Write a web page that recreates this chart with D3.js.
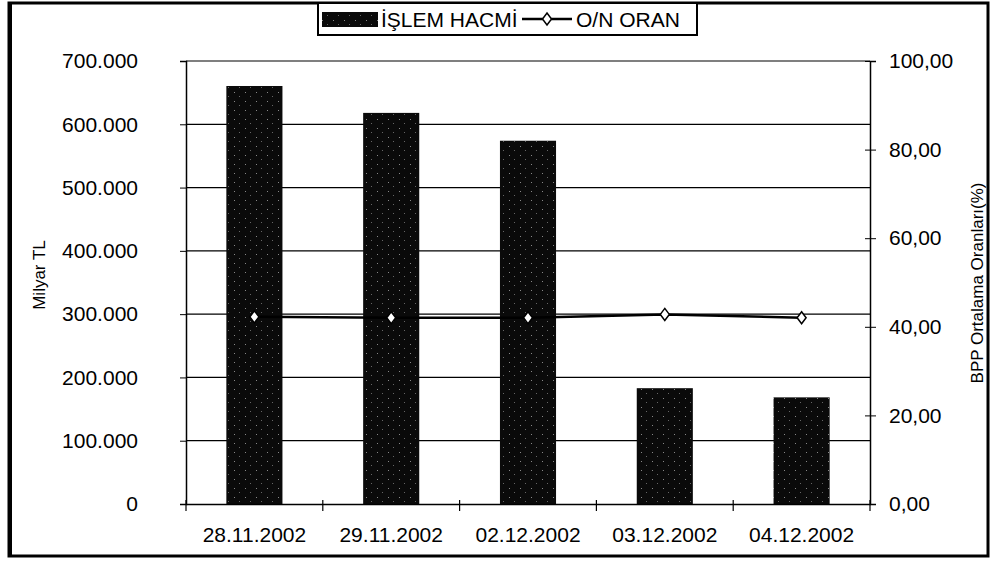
<!DOCTYPE html>
<html>
<head>
<meta charset="utf-8">
<script src="https://cdn.jsdelivr.net/npm/d3@7"></script>
<style>
body{margin:0;background:#fff;}
text{font-family:"Liberation Sans",Arial,sans-serif;fill:#000;}
</style>
</head>
<body>
<div id="chart"></div>
<script>
var dates=["28.11.2002","29.11.2002","02.12.2002","03.12.2002","04.12.2002"];
var islemHacmi=[660500,618000,574000,183000,168500];
var onOran=[42.25,42.05,42.05,42.8,42.05];
var leftTicks=[0,100000,200000,300000,400000,500000,600000,700000];
var rightTicks=[0,20,40,60,80,100];

var width=992,height=562;
var tr=d3.formatLocale({decimal:",",thousands:".",grouping:[3],currency:["","TL"]});
var fmtL=function(d){return d==0?"0":tr.format(",")(d);};
var fmtR=tr.format(",.2f");

var svg=d3.select("#chart").append("svg")
    .attr("width",width).attr("height",height);

// bar texture: black with a few light specks
var pat=svg.append("defs").append("pattern")
    .attr("id","dots").attr("width",11).attr("height",9)
    .attr("patternUnits","userSpaceOnUse");
pat.append("rect").attr("width",11).attr("height",9).attr("fill","#0a0a0a");
pat.append("rect").attr("x",3).attr("y",2).attr("width",1).attr("height",1).attr("fill","#888");
pat.append("rect").attr("x",8).attr("y",6).attr("width",1).attr("height",1).attr("fill","#666");

// outer frame
svg.append("rect").attr("x",9).attr("y",3).attr("width",979).attr("height",553)
    .attr("fill","none").attr("stroke","#000").attr("stroke-width",3);
svg.append("line").attr("x1",10).attr("x2",10).attr("y1",3).attr("y2",556)
    .attr("stroke","#000").attr("stroke-width",4);

var pLeft=186,pRight=870,pTop=61,pBottom=504;

var x=d3.scaleBand().domain(dates).range([pLeft,pRight]).padding(0);
var yL=d3.scaleLinear().domain([0,700000]).range([pBottom,pTop]);
var yR=d3.scaleLinear().domain([0,100]).range([pBottom,pTop]);

// gridlines
svg.append("g").selectAll("line").data(leftTicks.slice(1)).enter().append("line")
    .attr("x1",pLeft).attr("x2",pRight)
    .attr("y1",function(d){return yL(d);}).attr("y2",function(d){return yL(d);})
    .attr("stroke","#000").attr("stroke-width",1.2);

// bars
var bw=x.bandwidth()*0.41;
svg.append("g").selectAll("rect").data(islemHacmi).enter().append("rect")
    .attr("x",function(d,i){return x(dates[i])+x.bandwidth()/2-bw/2;})
    .attr("width",bw)
    .attr("y",function(d){return yL(d);})
    .attr("height",function(d){return pBottom-yL(d);})
    .attr("fill","url(#dots)");

// left axis
var axL=svg.append("g").attr("transform","translate("+pLeft+",0)")
    .call(d3.axisLeft(yL).tickValues(leftTicks).tickFormat(fmtL).tickSize(6).tickPadding(42));
axL.select(".domain").attr("stroke-width",1.5);
axL.selectAll("text").style("font-size","21px");

// right axis
var axR=svg.append("g").attr("transform","translate("+pRight+",0)")
    .call(d3.axisRight(yR).tickValues(rightTicks).tickFormat(fmtR).tickSize(6).tickPadding(13));
axR.select(".domain").attr("stroke-width",1.5);
axR.selectAll(".tick line").attr("x1",-5);
axR.selectAll("text").style("font-size","21px");

// x axis
var axX=svg.append("g").attr("transform","translate(0,"+pBottom+")")
    .call(d3.axisBottom(x).tickSize(0).tickPadding(23));
axX.select(".domain").attr("stroke-width",1.5);
axX.selectAll("text").style("font-size","21px");
svg.append("g").selectAll("line").data(d3.range(dates.length+1)).enter().append("line")
    .attr("x1",function(i){return pLeft+i*x.step();}).attr("x2",function(i){return pLeft+i*x.step();})
    .attr("y1",pBottom-4).attr("y2",pBottom+7)
    .attr("stroke","#000").attr("stroke-width",1.2);

// line series
var line=d3.line()
    .x(function(d,i){return x(dates[i])+x.bandwidth()/2;})
    .y(function(d){return yR(d);});
svg.append("path").datum(onOran).attr("d",line)
    .attr("fill","none").attr("stroke","#000").attr("stroke-width",2.5);
var diamond="M0,-6L4.5,0L0,6L-4.5,0Z";
svg.append("g").selectAll("path").data(onOran).enter().append("path")
    .attr("d",diamond)
    .attr("transform",function(d,i){return "translate("+(x(dates[i])+x.bandwidth()/2)+","+yR(d)+")";})
    .attr("fill","#fff").attr("stroke","#000").attr("stroke-width",1.5);

// axis titles
svg.append("text").attr("transform","translate(45,275)rotate(-90)")
    .attr("text-anchor","middle").style("font-size","17px").text("Milyar TL");
svg.append("text").attr("transform","translate(983,283)rotate(-90)")
    .attr("text-anchor","middle").style("font-size","17px").text("BPP Ortalama Oranları(%)");

// legend
var lg=svg.append("g");
lg.append("rect").attr("x",318).attr("y",3).attr("width",379).attr("height",32)
    .attr("fill","#fff").attr("stroke","#000").attr("stroke-width",2);
lg.append("rect").attr("x",322).attr("y",12).attr("width",56).attr("height",15).attr("fill","url(#dots)");
lg.append("text").attr("x",381).attr("y",27).style("font-size","21px").text("İŞLEM HACMİ");
lg.append("line").attr("x1",522).attr("x2",572).attr("y1",19).attr("y2",19)
    .attr("stroke","#000").attr("stroke-width",2.5);
lg.append("path").attr("d",diamond).attr("transform","translate(547,19)")
    .attr("fill","#fff").attr("stroke","#000").attr("stroke-width",1.5);
lg.append("text").attr("x",576).attr("y",27).style("font-size","21px").text("O/N ORAN");
</script>
</body>
</html>
